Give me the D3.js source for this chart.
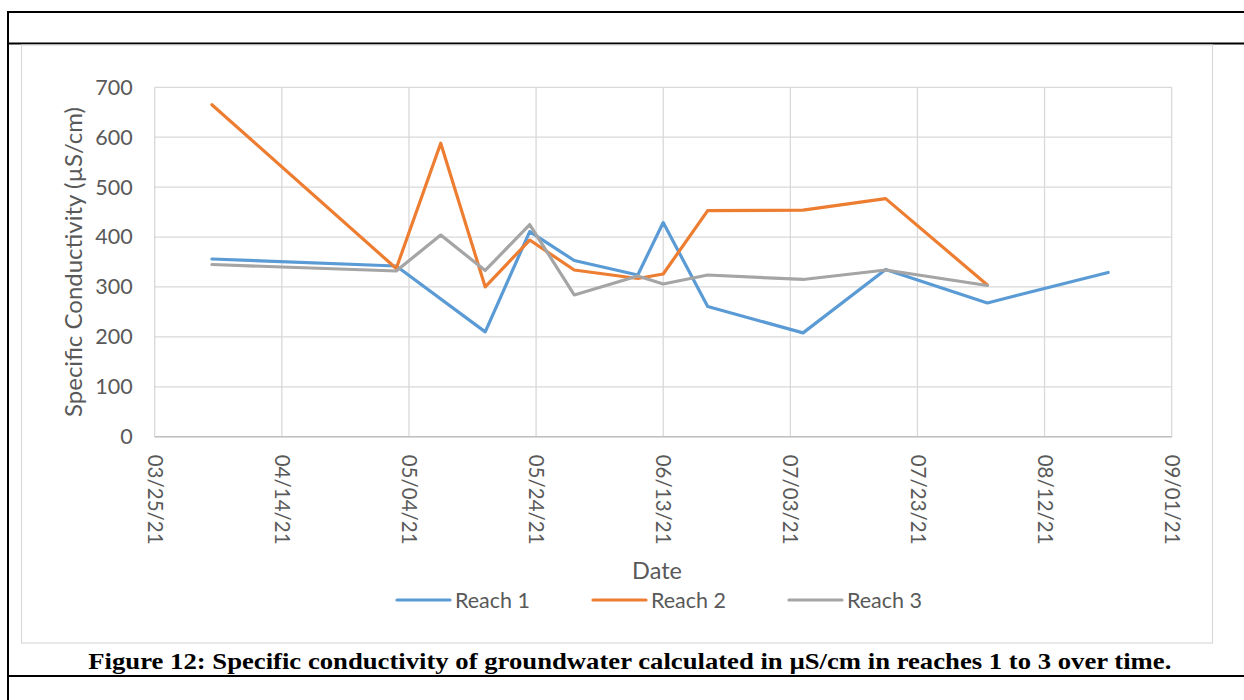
<!DOCTYPE html>
<html>
<head>
<meta charset="utf-8">
<script src="https://cdn.jsdelivr.net/npm/d3@7"></script>
<style>
  html, body { margin: 0; padding: 0; background: #fff; }
  svg { display: block; }
</style>
</head>
<body>
<svg id="chart" width="1244" height="700"></svg>
<script>
// ---- Data ----
const dates = ["04/03/21","05/02/21","05/09/21","05/16/21","05/23/21","05/30/21","06/09/21","06/13/21","06/20/21","07/05/21","07/18/21","08/03/21","08/22/21"];
const reach1 = [356, 342, null, 210, 411, 353, 324, 429, 261, 208, 335, 268, 329];
const reach2 = [665, 337, 588, 300, 394, 334, 317, 326, 453, 454, 477, 304, null];
const reach3 = [345, 332, 404, 333, 425, 284, 322, 306, 324, 315, 334, 303, null];
const seriesNames = ["Reach 1", "Reach 2", "Reach 3"];
const seriesColors = ["#5B9BD5", "#ED7D31", "#A5A5A5"];
const xTickLabels = ["03/25/21","04/14/21","05/04/21","05/24/21","06/13/21","07/03/21","07/23/21","08/12/21","09/01/21"];
const yTicks = [0, 100, 200, 300, 400, 500, 600, 700];
const yTitle = "Specific Conductivity (\u00b5S/cm)";
const xTitle = "Date";
const caption = "Figure 12: Specific conductivity of groundwater calculated in \u00b5S/cm in reaches 1 to 3 over time.";

// ---- Setup ----
const svg = d3.select("#chart");
const parse = d3.utcParse("%m/%d/%y");
const font = "Lato, 'Open Sans', sans-serif";
const textColor = "#595959";

// Document frame lines
const frame = svg.append("g").attr("stroke", "#000").attr("fill", "none");
frame.append("line").attr("x1", 7).attr("x2", 1244).attr("y1", 12).attr("y2", 12).attr("stroke-width", 2);
frame.append("line").attr("x1", 8).attr("x2", 8).attr("y1", 11).attr("y2", 700).attr("stroke-width", 2);
frame.append("line").attr("x1", 7).attr("x2", 1244).attr("y1", 43.5).attr("y2", 43.5).attr("stroke-width", 2);
frame.append("line").attr("x1", 7).attr("x2", 1244).attr("y1", 676).attr("y2", 676).attr("stroke-width", 2);

// Chart area border
svg.append("rect").attr("x", 21.5).attr("y", 45).attr("width", 1191).attr("height", 598)
  .attr("fill", "#fff").attr("stroke", "#d9d9d9").attr("stroke-width", 1.2);

const plot = { left: 154.7, right: 1171.7, top: 87.3, bottom: 436.7 };

const x = d3.scaleUtc()
  .domain([parse(xTickLabels[0]), parse(xTickLabels[xTickLabels.length - 1])])
  .range([plot.left, plot.right]);
const y = d3.scaleLinear().domain([0, 700]).range([plot.bottom, plot.top]);

// Gridlines
const grid = svg.append("g").attr("stroke", "#d9d9d9").attr("stroke-width", 1.3);
grid.selectAll(".hg").data(yTicks).join("line")
  .attr("x1", plot.left).attr("x2", plot.right)
  .attr("y1", d => y(d)).attr("y2", d => y(d));
grid.selectAll(".vg").data(xTickLabels).join("line")
  .attr("x1", d => x(parse(d))).attr("x2", d => x(parse(d)))
  .attr("y1", plot.top).attr("y2", plot.bottom);

// Bottom axis line
svg.append("line").attr("x1", plot.left).attr("x2", plot.right)
  .attr("y1", plot.bottom).attr("y2", plot.bottom)
  .attr("stroke", "#bfbfbf").attr("stroke-width", 1.5);

// Y axis (labels only)
const yAxis = d3.axisLeft(y).tickValues(yTicks).tickSize(0).tickPadding(22);
const gy = svg.append("g").attr("transform", `translate(${plot.left},0)`).call(yAxis);
gy.select(".domain").remove();
gy.selectAll("text").attr("fill", textColor).style("font-family", font).style("font-size", "21.5px");

// X axis (labels rotated)
const xAxis = d3.axisBottom(x).tickValues(xTickLabels.map(parse)).tickFormat(d3.utcFormat("%m/%d/%y")).tickSize(0);
const gx = svg.append("g").attr("transform", `translate(0,${plot.bottom})`).call(xAxis);
gx.select(".domain").remove();
gx.selectAll("text")
  .attr("fill", textColor).style("font-family", font).style("font-size", "20.5px")
  .attr("transform", "rotate(90)")
  .attr("x", 18).attr("y", 0).attr("dy", "0.36em")
  .attr("text-anchor", "start");

// Axis titles
svg.append("text").attr("transform", `translate(82,262) rotate(-90)`)
  .attr("text-anchor", "middle").attr("fill", textColor)
  .style("font-family", font).style("font-size", "24px").text(yTitle);
svg.append("text").attr("x", 657).attr("y", 579)
  .attr("text-anchor", "middle").attr("fill", textColor)
  .style("font-family", font).style("font-size", "23.5px").text(xTitle);

// Lines
const series = [reach1, reach2, reach3];
const line = d3.line()
  .x(d => x(d.date)).y(d => y(d.v));
series.forEach((vals, i) => {
  const pts = dates.map((d, j) => ({ date: parse(d), v: vals[j] })).filter(p => p.v !== null);
  svg.append("path").datum(pts)
    .attr("d", line)
    .attr("fill", "none")
    .attr("stroke", seriesColors[i])
    .attr("stroke-width", 3.2)
    .attr("stroke-linejoin", "round")
    .attr("stroke-linecap", "round");
});

// Legend
const legendX = [397, 593, 789];
const lg = svg.append("g");
seriesNames.forEach((name, i) => {
  lg.append("line").attr("x1", legendX[i]).attr("x2", legendX[i] + 53)
    .attr("y1", 600).attr("y2", 600)
    .attr("stroke", seriesColors[i]).attr("stroke-width", 3.2).attr("stroke-linecap", "round");
  lg.append("text").attr("x", legendX[i] + 58).attr("y", 600).attr("dy", "0.35em")
    .attr("fill", textColor).style("font-family", font).style("font-size", "21.5px").text(name);
});

// Caption
svg.append("text").attr("x", 88.3).attr("y", 668.5).attr("text-anchor", "start")
  .attr("fill", "#000")
  .attr("textLength", 1083).attr("lengthAdjust", "spacingAndGlyphs")
  .style("font-family", "'Liberation Serif', 'Times New Roman', serif")
  .style("font-weight", "bold").style("font-size", "23px")
  .text(caption);
</script>
</body>
</html>
